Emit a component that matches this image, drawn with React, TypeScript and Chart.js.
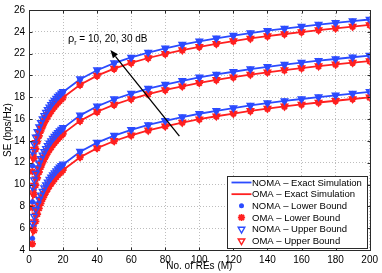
import { useEffect, useRef } from "react";
import { Chart, registerables } from "chart.js";

Chart.register(...registerables);

// ---------------- data ----------------
const M_VALUES = [2, 3, 4, 5, 6, 7, 8, 9, 10, 11, 12, 13, 14, 15, 16, 17, 18, 19, 20, 30, 40, 50, 60, 70, 80, 90, 100, 110, 120, 130, 140, 150, 160, 170, 180, 190, 200];

const X_TICKS = [0, 20, 40, 60, 80, 100, 120, 140, 160, 180, 200];
const Y_TICKS = [4, 6, 8, 10, 12, 14, 16, 18, 20, 22, 24, 26];

// rho_r = 30 dB
const nomaExact30 = [12.34, 13.31, 14.04, 14.63, 15.11, 15.54, 15.9, 16.23, 16.52, 16.79, 17.04, 17.26, 17.48, 17.67, 17.85, 18.03, 18.19, 18.34, 18.48, 19.65, 20.48, 21.13, 21.65, 22.1, 22.48, 22.82, 23.13, 23.4, 23.65, 23.89, 24.1, 24.3, 24.48, 24.66, 24.82, 24.98, 25.13];
const omaExact30 = [11.84, 12.81, 13.54, 14.13, 14.61, 15.04, 15.4, 15.73, 16.02, 16.29, 16.54, 16.76, 16.98, 17.17, 17.35, 17.53, 17.69, 17.84, 17.98, 19.15, 19.98, 20.63, 21.15, 21.6, 21.98, 22.32, 22.63, 22.9, 23.15, 23.39, 23.6, 23.8, 23.98, 24.16, 24.32, 24.48, 24.63];
const nomaLower30 = [11.72, 12.91, 13.76, 14.43, 14.96, 15.42, 15.8, 16.15, 16.45, 16.73, 16.99, 17.21, 17.44, 17.63, 17.82, 18.0, 18.16, 18.31, 18.46, 19.63, 20.46, 21.11, 21.64, 22.09, 22.47, 22.81, 23.12, 23.39, 23.64, 23.88, 24.09, 24.29, 24.47, 24.65, 24.81, 24.97, 25.12];
const omaLower30 = [11.18, 12.41, 13.26, 13.93, 14.46, 14.92, 15.3, 15.65, 15.95, 16.23, 16.49, 16.71, 16.94, 17.13, 17.32, 17.5, 17.66, 17.81, 17.96, 19.13, 19.96, 20.61, 21.14, 21.59, 21.97, 22.31, 22.62, 22.89, 23.14, 23.38, 23.59, 23.79, 23.97, 24.15, 24.31, 24.47, 24.62];
const nomaUpper30 = [13.03, 13.73, 14.34, 14.85, 15.28, 15.68, 16.02, 16.33, 16.61, 16.87, 17.11, 17.32, 17.54, 17.72, 17.9, 18.08, 18.23, 18.38, 18.52, 19.68, 20.51, 21.16, 21.67, 22.12, 22.5, 22.84, 23.15, 23.42, 23.67, 23.91, 24.12, 24.32, 24.5, 24.68, 24.84, 25.0, 25.15];
const omaUpper30 = [12.55, 13.23, 13.84, 14.35, 14.78, 15.18, 15.52, 15.83, 16.11, 16.37, 16.61, 16.82, 17.04, 17.22, 17.4, 17.58, 17.73, 17.88, 18.02, 19.18, 20.01, 20.66, 21.17, 21.62, 22.0, 22.34, 22.65, 22.92, 23.17, 23.41, 23.62, 23.82, 24.0, 24.18, 24.34, 24.5, 24.65];

// rho_r = 20 dB
const nomaExact20 = [9.03, 10.0, 10.73, 11.32, 11.8, 12.23, 12.59, 12.92, 13.21, 13.48, 13.73, 13.95, 14.17, 14.36, 14.54, 14.72, 14.88, 15.03, 15.17, 16.34, 17.17, 17.82, 18.34, 18.79, 19.17, 19.51, 19.82, 20.09, 20.34, 20.58, 20.79, 20.99, 21.17, 21.35, 21.51, 21.67, 21.82];
const omaExact20 = [8.53, 9.5, 10.23, 10.82, 11.3, 11.73, 12.09, 12.42, 12.71, 12.98, 13.23, 13.45, 13.67, 13.86, 14.04, 14.22, 14.38, 14.53, 14.67, 15.84, 16.67, 17.32, 17.84, 18.29, 18.67, 19.01, 19.32, 19.59, 19.84, 20.08, 20.29, 20.49, 20.67, 20.85, 21.01, 21.17, 21.32];
const nomaLower20 = [8.41, 9.6, 10.45, 11.12, 11.65, 12.11, 12.49, 12.84, 13.14, 13.42, 13.68, 13.9, 14.13, 14.32, 14.51, 14.69, 14.85, 15.0, 15.15, 16.32, 17.15, 17.8, 18.33, 18.78, 19.16, 19.5, 19.81, 20.08, 20.33, 20.57, 20.78, 20.98, 21.16, 21.34, 21.5, 21.66, 21.81];
const omaLower20 = [7.87, 9.1, 9.95, 10.62, 11.15, 11.61, 11.99, 12.34, 12.64, 12.92, 13.18, 13.4, 13.63, 13.82, 14.01, 14.19, 14.35, 14.5, 14.65, 15.82, 16.65, 17.3, 17.83, 18.28, 18.66, 19.0, 19.31, 19.58, 19.83, 20.07, 20.28, 20.48, 20.66, 20.84, 21.0, 21.16, 21.31];
const nomaUpper20 = [9.8, 10.42, 11.03, 11.54, 11.97, 12.37, 12.71, 13.02, 13.3, 13.56, 13.8, 14.01, 14.23, 14.41, 14.59, 14.77, 14.92, 15.07, 15.21, 16.37, 17.2, 17.85, 18.36, 18.81, 19.19, 19.53, 19.84, 20.11, 20.36, 20.6, 20.81, 21.01, 21.19, 21.37, 21.53, 21.69, 21.84];
const omaUpper20 = [9.24, 9.92, 10.53, 11.04, 11.47, 11.87, 12.21, 12.52, 12.8, 13.06, 13.3, 13.51, 13.73, 13.91, 14.09, 14.27, 14.42, 14.57, 14.71, 15.87, 16.7, 17.35, 17.86, 18.31, 18.69, 19.03, 19.34, 19.61, 19.86, 20.1, 20.31, 20.51, 20.69, 20.87, 21.03, 21.19, 21.34];

// rho_r = 10 dB
const nomaExact10 = [5.7, 6.67, 7.4, 7.99, 8.47, 8.9, 9.26, 9.59, 9.88, 10.15, 10.4, 10.62, 10.84, 11.03, 11.21, 11.39, 11.55, 11.7, 11.84, 13.01, 13.84, 14.49, 15.01, 15.46, 15.84, 16.18, 16.49, 16.76, 17.01, 17.25, 17.46, 17.66, 17.84, 18.02, 18.18, 18.34, 18.49];
const omaExact10 = [5.2, 6.17, 6.9, 7.49, 7.97, 8.4, 8.76, 9.09, 9.38, 9.65, 9.9, 10.12, 10.34, 10.53, 10.71, 10.89, 11.05, 11.2, 11.34, 12.51, 13.34, 13.99, 14.51, 14.96, 15.34, 15.68, 15.99, 16.26, 16.51, 16.75, 16.96, 17.16, 17.34, 17.52, 17.68, 17.84, 17.99];
const nomaLower10 = [5.05, 6.27, 7.12, 7.79, 8.32, 8.78, 9.16, 9.51, 9.81, 10.09, 10.35, 10.57, 10.8, 10.99, 11.18, 11.36, 11.52, 11.67, 11.82, 12.99, 13.82, 14.47, 15.0, 15.45, 15.83, 16.17, 16.48, 16.75, 17.0, 17.24, 17.45, 17.65, 17.83, 18.01, 18.17, 18.33, 18.48];
const omaLower10 = [4.56, 5.77, 6.62, 7.29, 7.82, 8.28, 8.66, 9.01, 9.31, 9.59, 9.85, 10.07, 10.3, 10.49, 10.68, 10.86, 11.02, 11.17, 11.32, 12.49, 13.32, 13.97, 14.5, 14.95, 15.33, 15.67, 15.98, 16.25, 16.5, 16.74, 16.95, 17.15, 17.33, 17.51, 17.67, 17.83, 17.98];
const nomaUpper10 = [6.45, 7.09, 7.7, 8.21, 8.64, 9.04, 9.38, 9.69, 9.97, 10.23, 10.47, 10.68, 10.9, 11.08, 11.26, 11.44, 11.59, 11.74, 11.88, 13.04, 13.87, 14.52, 15.03, 15.48, 15.86, 16.2, 16.51, 16.78, 17.03, 17.27, 17.48, 17.68, 17.86, 18.04, 18.2, 18.36, 18.51];
const omaUpper10 = [5.91, 6.59, 7.2, 7.71, 8.14, 8.54, 8.88, 9.19, 9.47, 9.73, 9.97, 10.18, 10.4, 10.58, 10.76, 10.94, 11.09, 11.24, 11.38, 12.54, 13.37, 14.02, 14.53, 14.98, 15.36, 15.7, 16.01, 16.28, 16.53, 16.77, 16.98, 17.18, 17.36, 17.54, 17.7, 17.86, 18.01];

const LEGEND_LABELS = [
  "NOMA \u2013 Exact Simulation",
  "OMA \u2013 Exact Simulation",
  "NOMA \u2013 Lower Bound",
  "OMA \u2013 Lower Bound",
  "NOMA \u2013 Upper Bound",
  "OMA \u2013 Upper Bound",
];

const X_TITLE = "No. of REs (M)";
const Y_TITLE = "SE (bps/Hz)";
const ANNOT_SYMBOL = "\u03c1";
const ANNOT_SUB = "r";
const ANNOT_REST = " = 10, 20, 30 dB";
// annotation anchor (data units)
const ANNOT_TEXT_AT = { x: 22.9, y: 23.1 };
const ARROW_TAIL = { x: 88.3, y: 14.43 };
const ARROW_HEAD = { x: 47.8, y: 22.33 };

// ---------------- styles ----------------
const BLUE = "#2b4bff";
const RED = "#ff2020";
const FONT = "'Liberation Sans', Arial, Helvetica, sans-serif";

type Kind = "line" | "dot" | "star" | "tri";

const pts = (ys: number[]) => M_VALUES.map((m, i) => ({ x: m, y: ys[i] }));

function makeDs(label: string, ys: number[], color: string, kind: Kind) {
  if (kind === "line") {
    return {
      label,
      data: pts(ys),
      borderColor: color,
      backgroundColor: color,
      borderWidth: 1.8,
      pointRadius: 0,
      showLine: true,
      tension: 0,
      order: 4,
    };
  }
  const base: any = {
    label,
    data: pts(ys),
    showLine: false,
    borderColor: color,
    pointBorderColor: color,
  };
  if (kind === "dot") {
    return { ...base, pointStyle: "circle", pointRadius: 2.5, pointBorderWidth: 0.5, pointBackgroundColor: color, order: 3 };
  }
  if (kind === "star") {
    return { ...base, pointStyle: "star", pointRadius: 3.6, pointBorderWidth: 1.8, pointBackgroundColor: color, order: 2 };
  }
  return { ...base, pointStyle: "triangle", pointRotation: 180, pointRadius: 3.8, pointBorderWidth: 1.4, pointBackgroundColor: "rgba(255,255,255,0)", order: 1 };
}

function drawMarker(ctx: CanvasRenderingContext2D, kind: Kind, color: string, cx: number, cy: number) {
  ctx.save();
  ctx.strokeStyle = color;
  ctx.fillStyle = color;
  if (kind === "line") {
    ctx.lineWidth = 1.8;
    ctx.beginPath();
    ctx.moveTo(cx - 10, cy);
    ctx.lineTo(cx + 10, cy);
    ctx.stroke();
  } else if (kind === "dot") {
    ctx.beginPath();
    ctx.arc(cx, cy, 2.5, 0, Math.PI * 2);
    ctx.fill();
  } else if (kind === "star") {
    ctx.lineWidth = 1.8;
    const r = 3.6;
    ctx.beginPath();
    for (let k = 0; k < 4; k++) {
      const a = (k * Math.PI) / 4;
      ctx.moveTo(cx - r * Math.cos(a), cy - r * Math.sin(a));
      ctx.lineTo(cx + r * Math.cos(a), cy + r * Math.sin(a));
    }
    ctx.stroke();
  } else {
    ctx.lineWidth = 1.4;
    const r = 3.8;
    ctx.beginPath();
    for (let k = 0; k < 3; k++) {
      const a = Math.PI / 2 + (k * 2 * Math.PI) / 3;
      const px = cx + r * Math.cos(a);
      const py = cy + r * Math.sin(a);
      if (k === 0) ctx.moveTo(px, py);
      else ctx.lineTo(px, py);
    }
    ctx.closePath();
    ctx.stroke();
  }
  ctx.restore();
}

const LEGEND_STYLES: { kind: Kind; color: string }[] = [
  { kind: "line", color: BLUE },
  { kind: "line", color: RED },
  { kind: "dot", color: BLUE },
  { kind: "star", color: RED },
  { kind: "tri", color: BLUE },
  { kind: "tri", color: RED },
];

const decorPlugin = {
  id: "decor",
  afterDraw(chart: any) {
    const { ctx, chartArea: a, scales } = chart;
    const xs = scales.x;
    const ys = scales.y;
    ctx.save();

    // axes box
    const L = Math.round(a.left) + 0.5;
    const R = Math.round(a.right) + 0.5;
    const T = Math.round(a.top) + 0.5;
    const B = Math.round(a.bottom) + 0.5;
    ctx.strokeStyle = "#2a2a2a";
    ctx.lineWidth = 1;
    ctx.strokeRect(L, T, R - L, B - T);

    // inward tick marks
    ctx.beginPath();
    X_TICKS.forEach((v) => {
      const px = Math.round(xs.getPixelForValue(v)) + 0.5;
      ctx.moveTo(px, B);
      ctx.lineTo(px, B - 3);
      ctx.moveTo(px, T);
      ctx.lineTo(px, T + 3);
    });
    Y_TICKS.forEach((v) => {
      const py = Math.round(ys.getPixelForValue(v)) + 0.5;
      ctx.moveTo(L, py);
      ctx.lineTo(L + 3, py);
      ctx.moveTo(R, py);
      ctx.lineTo(R - 3, py);
    });
    ctx.stroke();

    // axis titles
    ctx.fillStyle = "#000";
    ctx.font = `10px ${FONT}`;
    ctx.textAlign = "center";
    ctx.textBaseline = "middle";
    ctx.fillText(X_TITLE, (a.left + a.right) / 2, 266.5);
    ctx.save();
    ctx.translate(8.5, (a.top + a.bottom) / 2);
    ctx.rotate(-Math.PI / 2);
    ctx.fillText(Y_TITLE, 0, 0);
    ctx.restore();

    // annotation arrow
    const tx = xs.getPixelForValue(ARROW_TAIL.x);
    const ty = ys.getPixelForValue(ARROW_TAIL.y);
    const hx = xs.getPixelForValue(ARROW_HEAD.x);
    const hy = ys.getPixelForValue(ARROW_HEAD.y);
    const ang = Math.atan2(hy - ty, hx - tx);
    const headLen = 8;
    const headW = 3.2;
    const bx = hx - headLen * Math.cos(ang);
    const by = hy - headLen * Math.sin(ang);
    ctx.strokeStyle = "#000";
    ctx.fillStyle = "#000";
    ctx.lineWidth = 1.3;
    ctx.beginPath();
    ctx.moveTo(tx, ty);
    ctx.lineTo(bx, by);
    ctx.stroke();
    ctx.beginPath();
    ctx.moveTo(hx, hy);
    ctx.lineTo(bx + headW * Math.sin(ang), by - headW * Math.cos(ang));
    ctx.lineTo(bx - headW * Math.sin(ang), by + headW * Math.cos(ang));
    ctx.closePath();
    ctx.fill();

    // annotation text
    let ax = xs.getPixelForValue(ANNOT_TEXT_AT.x);
    const ay = ys.getPixelForValue(ANNOT_TEXT_AT.y);
    ctx.textAlign = "left";
    ctx.textBaseline = "alphabetic";
    ctx.font = `11px ${FONT}`;
    ctx.fillText(ANNOT_SYMBOL, ax, ay);
    ax += ctx.measureText(ANNOT_SYMBOL).width;
    ctx.font = `7px ${FONT}`;
    ctx.fillText(ANNOT_SUB, ax, ay + 3);
    ax += ctx.measureText(ANNOT_SUB).width;
    ctx.font = `10px ${FONT}`;
    ctx.fillText(ANNOT_REST, ax, ay);

    // legend
    const lw = 140;
    const lh = 72;
    const lx = Math.round(a.right) - 143 + 0.5;
    const ly = Math.round(a.bottom) - 74 + 0.5;
    ctx.fillStyle = "#fff";
    ctx.fillRect(lx, ly, lw, lh);
    ctx.strokeStyle = "#2a2a2a";
    ctx.lineWidth = 1;
    ctx.strokeRect(lx, ly, lw, lh);
    LEGEND_LABELS.forEach((label, i) => {
      const cy = ly + 6 + i * 11.67;
      const st = LEGEND_STYLES[i];
      drawMarker(ctx, st.kind, st.color, lx + 14, cy);
      ctx.fillStyle = "#000";
      ctx.font = `9.5px ${FONT}`;
      ctx.textAlign = "left";
      ctx.textBaseline = "middle";
      ctx.fillText(label, lx + 24.5, cy + 0.5);
    });

    ctx.restore();
  },
};

export default function App() {
  const ref = useRef<HTMLCanvasElement | null>(null);

  useEffect(() => {
    document.body.style.margin = "0";
    const canvas = ref.current;
    if (!canvas) return;

    const groups: [number[], number[], number[], number[], number[], number[], string][] = [
      [nomaExact30, omaExact30, nomaLower30, omaLower30, nomaUpper30, omaUpper30, "30"],
      [nomaExact20, omaExact20, nomaLower20, omaLower20, nomaUpper20, omaUpper20, "20"],
      [nomaExact10, omaExact10, nomaLower10, omaLower10, nomaUpper10, omaUpper10, "10"],
    ];
    const datasets: any[] = [];
    groups.forEach(([ne, oe, nl, ol, nu, ou, tag]) => {
      datasets.push(makeDs(`NOMA Exact ${tag} dB`, ne, BLUE, "line"));
      datasets.push(makeDs(`OMA Exact ${tag} dB`, oe, RED, "line"));
      datasets.push(makeDs(`NOMA Lower ${tag} dB`, nl, BLUE, "dot"));
      datasets.push(makeDs(`OMA Lower ${tag} dB`, ol, RED, "star"));
      datasets.push(makeDs(`NOMA Upper ${tag} dB`, nu, BLUE, "tri"));
      datasets.push(makeDs(`OMA Upper ${tag} dB`, ou, RED, "tri"));
    });

    const tickFont = { family: FONT, size: 10 };

    const chart = new Chart(canvas, {
      type: "line",
      data: { datasets },
      plugins: [decorPlugin],
      options: {
        animation: false,
        responsive: false,
        devicePixelRatio: 1,
        layout: { padding: { top: 6, right: 10, left: 0, bottom: 0 } },
        plugins: { legend: { display: false }, tooltip: { enabled: false } },
        scales: {
          x: {
            type: "linear",
            min: 0,
            max: 200,
            afterFit: (s: any) => {
              s.height = 23;
            },
            afterBuildTicks: (s: any) => {
              s.ticks = X_TICKS.map((v) => ({ value: v }));
            },
            ticks: { font: tickFont, color: "#000", padding: 4, maxRotation: 0, autoSkip: false },
            grid: { color: "#bdbdbd", lineWidth: 1, drawTicks: false },
            border: { display: false, dash: [1, 2] },
          },
          y: {
            type: "linear",
            min: 4,
            max: 26,
            afterFit: (s: any) => {
              s.width = 29;
            },
            afterBuildTicks: (s: any) => {
              s.ticks = Y_TICKS.map((v) => ({ value: v }));
            },
            ticks: { font: tickFont, color: "#000", padding: 4, autoSkip: false },
            grid: { color: "#bdbdbd", lineWidth: 1, drawTicks: false },
            border: { display: false, dash: [1, 2] },
          },
        },
      } as any,
    });

    return () => chart.destroy();
  }, []);

  return <canvas ref={ref} width={382} height={273} style={{ display: "block" }} />;
}
